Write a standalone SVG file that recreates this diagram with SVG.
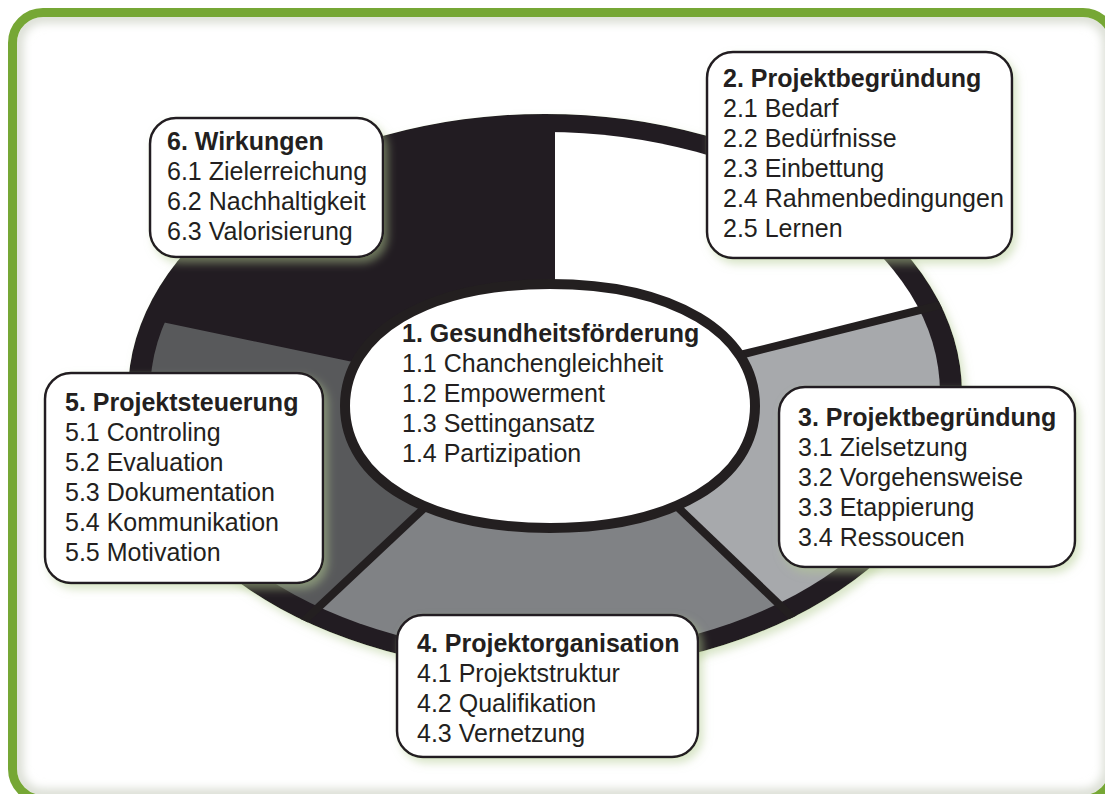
<svg xmlns="http://www.w3.org/2000/svg" width="1105" height="794" viewBox="0 0 1105 794">
  <defs>
    <style>
      .box { fill: #ffffff; stroke: #231f20; stroke-width: 2.5; }
      .t { font-family: "Liberation Sans", Arial, Helvetica, sans-serif; font-size: 25px; fill: #231f20; }
      .h { font-weight: bold; }
      .div { stroke: #231f20; stroke-width: 8; fill: none; }
    </style>
    <filter id="shadow" x="-10%" y="-10%" width="125%" height="130%">
      <feDropShadow dx="4" dy="5" stdDeviation="4" flood-color="#b3cc92" flood-opacity="0.5"/>
    </filter>
    <filter id="blur" x="-5%" y="-5%" width="110%" height="110%">
      <feGaussianBlur stdDeviation="5"/>
    </filter>
    <clipPath id="frameClip">
      <rect x="17" y="17" width="1092" height="778" rx="26"/>
    </clipPath>
    <clipPath id="innerRing">
      <ellipse cx="545" cy="393" rx="395" ry="261"/>
    </clipPath>
    <clipPath id="outerRing">
      <ellipse cx="545" cy="393" rx="417" ry="279"/>
    </clipPath>
  </defs>

  <!-- background and frame -->
  <rect x="0" y="0" width="1105" height="794" fill="#ffffff"/>
  <g clip-path="url(#frameClip)">
    <rect x="17" y="17" width="1092" height="778" rx="26" fill="none" stroke="#d9ddd3" stroke-width="12" filter="url(#blur)"/>
  </g>
  <rect x="12.5" y="12.5" width="1101" height="787" rx="30.5" fill="none" stroke="#76a735" stroke-width="9"/>

  <!-- wheel -->
  <g id="wheel">
    <ellipse cx="545" cy="393" rx="417" ry="279" fill="#231f20" filter="url(#shadow)"/>
    <g clip-path="url(#innerRing)">
      <polygon id="seg2" points="550,405 555,280 555,0 1105,0 1105,264 752,352" fill="#ffffff"/>
      <polygon id="seg3" points="550,405 752,352 1105,264 1105,794 978,794 673,503" fill="#a7a9ac"/>
      <polygon id="seg4" points="550,405 673,503 978,794 117,794 428,505" fill="#808285"/>
      <polygon id="seg5" points="550,405 428,505 117,794 0,794 0,288 353,362" fill="#58595b"/>
    </g>
    <g id="dividers" clip-path="url(#outerRing)">
      <line class="div" x1="740" y1="355" x2="960" y2="300"/>
      <line class="div" x1="665" y1="495" x2="810" y2="634"/>
      <line class="div" x1="436" y1="497" x2="290" y2="634"/>
    </g>
  </g>

  <!-- center node -->
  <g id="node1">
    <path d="M 755,406 C 755,479.2 673,528 550,528 C 427,528 345,479.2 345,406 C 345,332.8 427,284 550,284 C 673,284 755,332.8 755,406 Z" fill="#ffffff" stroke="#231f20" stroke-width="10"/>
    <text class="t h" x="402" y="342">1. Gesundheitsförderung</text>
    <text class="t" x="402" y="372">1.1 Chanchengleichheit</text>
    <text class="t" x="402" y="402">1.2 Empowerment</text>
    <text class="t" x="402" y="432">1.3 Settingansatz</text>
    <text class="t" x="402" y="462">1.4 Partizipation</text>
  </g>

  <g id="node6">
    <rect class="box" x="150" y="118" width="233" height="139" rx="26" filter="url(#shadow)"/>
    <text class="t h" x="167" y="150">6. Wirkungen</text>
    <text class="t" x="167" y="180">6.1 Zielerreichung</text>
    <text class="t" x="167" y="210">6.2 Nachhaltigkeit</text>
    <text class="t" x="167" y="240">6.3 Valorisierung</text>
  </g>

  <g id="node2">
    <rect class="box" x="707" y="52" width="305" height="206" rx="26" filter="url(#shadow)"/>
    <text class="t h" x="723" y="87">2. Projektbegründung</text>
    <text class="t" x="723" y="117">2.1 Bedarf</text>
    <text class="t" x="723" y="147">2.2 Bedürfnisse</text>
    <text class="t" x="723" y="177">2.3 Einbettung</text>
    <text class="t" x="723" y="207">2.4 Rahmenbedingungen</text>
    <text class="t" x="723" y="237">2.5 Lernen</text>
  </g>

  <g id="node3">
    <rect class="box" x="779" y="387" width="296" height="180" rx="26" filter="url(#shadow)"/>
    <text class="t h" x="798" y="426">3. Projektbegründung</text>
    <text class="t" x="798" y="456">3.1 Zielsetzung</text>
    <text class="t" x="798" y="486">3.2 Vorgehensweise</text>
    <text class="t" x="798" y="516">3.3 Etappierung</text>
    <text class="t" x="798" y="546">3.4 Ressoucen</text>
  </g>

  <g id="node4">
    <rect class="box" x="397" y="615" width="301" height="142" rx="26" filter="url(#shadow)"/>
    <text class="t h" x="417" y="652">4. Projektorganisation</text>
    <text class="t" x="417" y="682">4.1 Projektstruktur</text>
    <text class="t" x="417" y="712">4.2 Qualifikation</text>
    <text class="t" x="417" y="742">4.3 Vernetzung</text>
  </g>

  <g id="node5">
    <rect class="box" x="45" y="373" width="278" height="210" rx="26" filter="url(#shadow)"/>
    <text class="t h" x="65" y="411">5. Projektsteuerung</text>
    <text class="t" x="65" y="441">5.1 Controling</text>
    <text class="t" x="65" y="471">5.2 Evaluation</text>
    <text class="t" x="65" y="501">5.3 Dokumentation</text>
    <text class="t" x="65" y="531">5.4 Kommunikation</text>
    <text class="t" x="65" y="561">5.5 Motivation</text>
  </g>
</svg>
